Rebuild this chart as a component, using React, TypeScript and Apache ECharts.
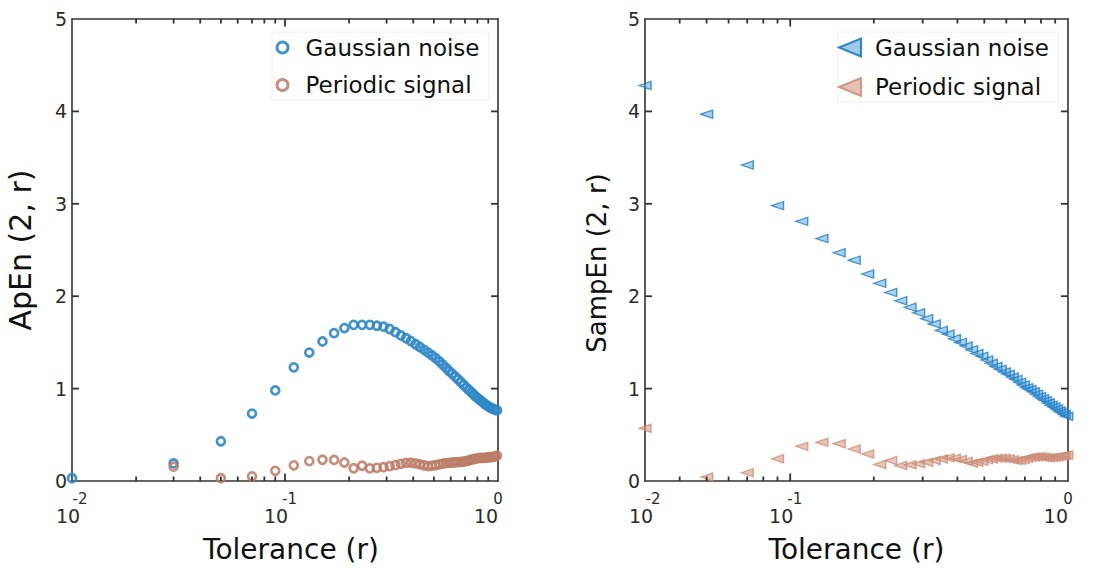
import { useEffect, useRef } from 'react';
import * as echarts from 'echarts';

// ---- data -------------------------------------------------------------
const tolerance = [
  0.01, 0.03, 0.05, 0.07, 0.09, 0.11, 0.13, 0.15, 0.17, 0.19,
  0.21, 0.23, 0.25, 0.27, 0.29, 0.31, 0.33, 0.35, 0.37, 0.39,
  0.41, 0.43, 0.45, 0.47, 0.49, 0.51, 0.53, 0.55, 0.57, 0.59,
  0.61, 0.63, 0.65, 0.67, 0.69, 0.71, 0.73, 0.75, 0.77, 0.79,
  0.81, 0.83, 0.85, 0.87, 0.89, 0.91, 0.93, 0.95, 0.97, 0.99,
];

const apenGaussian = [
  0.03, 0.19, 0.43, 0.73, 0.98, 1.23, 1.39, 1.51, 1.60, 1.655,
  1.69, 1.69, 1.69, 1.68, 1.67, 1.645, 1.61, 1.575, 1.545, 1.515,
  1.48, 1.45, 1.42, 1.39, 1.36, 1.33, 1.295, 1.26, 1.225, 1.19,
  1.16, 1.13, 1.10, 1.07, 1.04, 1.01, 0.985, 0.96, 0.935, 0.91,
  0.89, 0.87, 0.85, 0.83, 0.815, 0.80, 0.79, 0.78, 0.77, 0.765,
];

const apenPeriodic = [
  null, 0.155, 0.03, 0.05, 0.11, 0.17, 0.215, 0.23, 0.228, 0.2,
  0.138, 0.165, 0.137, 0.143, 0.15, 0.161, 0.172, 0.186, 0.197, 0.198,
  0.19, 0.18, 0.168, 0.161, 0.165, 0.172, 0.18, 0.188, 0.194, 0.197,
  0.2, 0.203, 0.205, 0.207, 0.21, 0.216, 0.224, 0.232, 0.238, 0.243,
  0.247, 0.25, 0.25, 0.25, 0.254, 0.257, 0.259, 0.261, 0.267, 0.275,
];

const sampenGaussian = [
  null, 4.28, 3.97, 3.42, 2.98, 2.81, 2.625, 2.47, 2.39, 2.24,
  2.14, 2.04, 1.95, 1.88, 1.82, 1.757, 1.70, 1.63, 1.59, 1.54,
  1.50, 1.46, 1.42, 1.38, 1.35, 1.31, 1.275, 1.24, 1.21, 1.18,
  1.155, 1.125, 1.10, 1.07, 1.04, 1.01, 0.99, 0.965, 0.94, 0.915,
  0.89, 0.87, 0.845, 0.82, 0.80, 0.78, 0.757, 0.74, 0.72, 0.70,
];

const sampenPeriodic = [
  null, 0.57, 0.043, 0.089, 0.24, 0.375, 0.418, 0.404, 0.346, 0.293,
  0.179, 0.221, 0.168, 0.175, 0.186, 0.204, 0.221, 0.239, 0.25, 0.246,
  0.232, 0.214, 0.193, 0.204, 0.214, 0.229, 0.239, 0.246, 0.246, 0.246,
  0.239, 0.229, 0.221, 0.225, 0.232, 0.246, 0.254, 0.26, 0.26, 0.264,
  0.257, 0.254, 0.25, 0.254, 0.257, 0.26, 0.268, 0.271, 0.275, 0.282,
];

const seriesNames = ['Gaussian noise', 'Periodic signal'];
const xTitle = 'Tolerance (r)';
const yTitles = ['ApEn (2, r)', 'SampEn (2, r)'];
const xRangeLeft = [0.01, 1];
const xRangeRight = [0.03, 1];
const yRange = [0, 5];
const yTickValues = [1, 2, 3, 4];
const majorTicks = [0.01, 0.1, 1];
const minorTicks = [0.02, 0.03, 0.04, 0.05, 0.06, 0.07, 0.08, 0.09, 0.2, 0.3, 0.4, 0.5, 0.6, 0.7, 0.8, 0.9];

// ---- styling ------------------------------------------------------------
const FONT = 'DejaVu Sans';
const AXIS_COLOR = '#333333';
const LABEL_COLOR = '#2a2a2a';
const BLUE_RING = '#2f87c7';
const BROWN_RING = '#bb7b64';
const BLUE_TRI_EDGE = '#1e7cc4';
const BLUE_TRI_FILL = 'rgba(60,150,215,0.55)';
const SALMON_EDGE = '#cc8c78';
const SALMON_FILL = 'rgba(212,150,130,0.7)';
const TRI_PATH = 'path://M0,9L22,0L22,18Z';
const MAJOR_LEN = 7.5;
const MINOR_LEN = 4.5;
const Y_TICK_LEN = 7;
const TICK_WIDTH = 1.8;

function pairs(xs: number[], ys: (number | null)[]) {
  return xs.map((x, i) => [x, ys[i]]).filter((p) => p[1] != null);
}

function expLabel(v: number) {
  const e = Math.round(Math.log10(v));
  const k = -e;
  return `{e${k}|${e}}\n{b${k}|10}`;
}

const expStyle = { fontSize: 15, lineHeight: 15, align: 'center', color: LABEL_COLOR, fontFamily: FONT };
const baseStyle = { fontSize: 19, lineHeight: 19, align: 'center', color: LABEL_COLOR, fontFamily: FONT };
const expRich: any = {
  e2: { ...expStyle, padding: [0, 0, 0, 16] },
  b2: { ...baseStyle, padding: [0, 8, 0, 0] },
  e1: { ...expStyle, padding: [0, 0, 0, 9] },
  b1: { ...baseStyle, padding: [0, 18, 0, 0] },
  e0: { ...expStyle, padding: [0, 0, 0, 0] },
  b0: { ...baseStyle, padding: [0, 24, 0, 0] },
};

const frameLine = { show: true, onZero: false, lineStyle: { color: AXIS_COLOR, width: 1.6 } };

function xAxes(gridIndex: number, range: number[], nameShift: number) {
  return [
    {
      type: 'log',
      logBase: 10,
      gridIndex,
      min: range[0],
      max: range[1],
      position: 'bottom',
      splitLine: { show: false },
      axisLine: frameLine,
      axisTick: { show: false },
      axisLabel: {
        show: true,
        formatter: (v: number) => expLabel(v),
        rich: expRich,
        margin: 10,
        showMinLabel: true,
        showMaxLabel: true,
        align: 'center',
      },
      name: xTitle,
      nameLocation: 'middle',
      nameGap: 54,
      nameTextStyle: { fontSize: 28, color: '#111', fontFamily: FONT, padding: [0, 0, 0, nameShift] },
    },
    {
      type: 'log',
      logBase: 10,
      gridIndex,
      min: range[0],
      max: range[1],
      position: 'top',
      splitLine: { show: false },
      axisLine: frameLine,
      axisTick: { show: false },
      axisLabel: { show: false },
    },
  ];
}

function yAxes(gridIndex: number, title: string, titleSize: number, titleGap: number, titlePad: number[]) {
  const base = {
    type: 'value',
    gridIndex,
    min: yRange[0],
    max: yRange[1],
    interval: 1,
    splitLine: { show: false },
    axisTick: { show: false },
  };
  return [
    {
      ...base,
      position: 'left',
      axisLine: frameLine,
      axisLabel: { show: true, fontSize: 19, color: LABEL_COLOR, fontFamily: FONT, margin: 5 },
      name: title,
      nameLocation: 'middle',
      nameGap: titleGap,
      nameTextStyle: { fontSize: titleSize, color: '#111', fontFamily: FONT, padding: titlePad },
    },
    {
      ...base,
      position: 'right',
      axisLine: frameLine,
      axisLabel: { show: false },
    },
  ];
}

// inward tick marks on all four frame edges, positioned with the chart's own axis scales
function buildTicks(chart: any, xAxisIndex: number, yAxisIndex: number, range: number[]) {
  const style = { stroke: AXIS_COLOR, lineWidth: TICK_WIDTH };
  const yb = chart.convertToPixel({ yAxisIndex }, yRange[0]);
  const yt = chart.convertToPixel({ yAxisIndex }, yRange[1]);
  const xl = chart.convertToPixel({ xAxisIndex }, range[0]);
  const xr = chart.convertToPixel({ xAxisIndex }, range[1]);
  const out: any[] = [];
  const marks = [
    ...majorTicks.map((v) => [v, MAJOR_LEN]),
    ...minorTicks.map((v) => [v, MINOR_LEN]),
  ].filter((m) => m[0] > range[0] && m[0] < range[1]);
  marks.forEach(([v, len]) => {
    const x = chart.convertToPixel({ xAxisIndex }, v);
    out.push({ type: 'line', z: 50, silent: true, shape: { x1: x, y1: yb, x2: x, y2: yb - len }, style });
    out.push({ type: 'line', z: 50, silent: true, shape: { x1: x, y1: yt, x2: x, y2: yt + len }, style });
  });
  yTickValues.forEach((v) => {
    const y = chart.convertToPixel({ yAxisIndex }, v);
    out.push({ type: 'line', z: 50, silent: true, shape: { x1: xl, y1: y, x2: xl + Y_TICK_LEN, y2: y }, style });
    out.push({ type: 'line', z: 50, silent: true, shape: { x1: xr, y1: y, x2: xr - Y_TICK_LEN, y2: y }, style });
  });
  return out;
}

export default function App() {
  const ref = useRef<HTMLDivElement>(null);

  useEffect(() => {
    if (!ref.current) return;
    const chart = echarts.init(ref.current, undefined, { renderer: 'svg' });

    const option: any = {
      animation: false,
      backgroundColor: '#ffffff',
      textStyle: { fontFamily: FONT },
      grid: [
        { left: 72, top: 19, width: 426, height: 466 },
        { left: 645, top: 19, width: 427, height: 467 },
      ],
      // axes 0-1 belong to the left panel, 2-3 to the right panel
      xAxis: [...xAxes(0, xRangeLeft, 12), ...xAxes(1, xRangeRight, 0)],
      yAxis: [
        ...yAxes(0, yTitles[0], 30, 37, [0, 0, 0, 0]),
        ...yAxes(1, yTitles[1], 26, 35, [0, 26, 0, 0]),
      ],
      legend: [
        {
          left: 272,
          top: 32,
          orient: 'vertical',
          padding: [4, 9.5, 3.5, 3.5],
          itemWidth: 36,
          itemHeight: 11,
          itemGap: 14.5,
          selectedMode: false,
          backgroundColor: '#ffffff',
          borderColor: '#efefef',
          borderWidth: 1,
          borderRadius: 0,
          textStyle: { fontSize: 23, color: '#111', fontFamily: FONT },
          data: [
            { name: seriesNames[0], icon: 'circle', itemStyle: { color: 'rgba(255,255,255,0)', borderColor: BLUE_RING, borderWidth: 3 } },
            { name: seriesNames[1], icon: 'circle', itemStyle: { color: 'rgba(255,255,255,0)', borderColor: BROWN_RING, borderWidth: 3 } },
          ],
        },
        {
          left: 838,
          top: 32,
          orient: 'vertical',
          padding: [4, 9, 3.5, 0],
          itemWidth: 40,
          itemHeight: 18,
          itemGap: 16.5,
          selectedMode: false,
          backgroundColor: '#ffffff',
          borderColor: '#efefef',
          borderWidth: 1,
          borderRadius: 0,
          textStyle: { fontSize: 23, color: '#111', fontFamily: FONT },
          data: [
            { name: seriesNames[0], icon: TRI_PATH, itemStyle: { color: BLUE_TRI_FILL, borderColor: BLUE_TRI_EDGE, borderWidth: 2 } },
            { name: seriesNames[1], icon: TRI_PATH, itemStyle: { color: SALMON_FILL, borderColor: SALMON_EDGE, borderWidth: 2 } },
          ],
        },
      ],
      series: [
        {
          type: 'scatter',
          name: seriesNames[0],
          xAxisIndex: 0,
          yAxisIndex: 0,
          data: pairs(tolerance, apenGaussian),
          symbol: 'circle',
          symbolSize: 8,
          clip: false,
          itemStyle: { color: 'rgba(255,255,255,0)', borderColor: BLUE_RING, borderWidth: 2.7, opacity: 0.9 },
          emphasis: { disabled: true },
        },
        {
          type: 'scatter',
          name: seriesNames[1],
          xAxisIndex: 0,
          yAxisIndex: 0,
          data: pairs(tolerance, apenPeriodic),
          symbol: 'circle',
          symbolSize: 8,
          clip: false,
          itemStyle: { color: 'rgba(255,255,255,0)', borderColor: BROWN_RING, borderWidth: 2.7, opacity: 0.85 },
          emphasis: { disabled: true },
        },
        {
          type: 'scatter',
          name: seriesNames[0],
          xAxisIndex: 2,
          yAxisIndex: 2,
          data: pairs(tolerance, sampenGaussian),
          symbol: TRI_PATH,
          symbolSize: [12, 10],
          symbolKeepAspect: true,
          clip: false,
          itemStyle: { color: BLUE_TRI_FILL, borderColor: BLUE_TRI_EDGE, borderWidth: 1.3 },
          emphasis: { disabled: true },
        },
        {
          type: 'scatter',
          name: seriesNames[1],
          xAxisIndex: 2,
          yAxisIndex: 2,
          data: pairs(tolerance, sampenPeriodic),
          symbol: TRI_PATH,
          symbolSize: [12, 10],
          symbolKeepAspect: true,
          clip: false,
          itemStyle: { color: SALMON_FILL, borderColor: SALMON_EDGE, borderWidth: 1.3 },
          emphasis: { disabled: true },
        },
      ],
    };

    chart.setOption(option);
    chart.setOption({
      graphic: [...buildTicks(chart, 0, 0, xRangeLeft), ...buildTicks(chart, 2, 2, xRangeRight)],
    });
    return () => chart.dispose();
  }, []);

  return (
    <div
      ref={ref}
      style={{ position: 'fixed', left: 0, top: 0, width: 1095, height: 568, background: '#fff' }}
    />
  );
}
